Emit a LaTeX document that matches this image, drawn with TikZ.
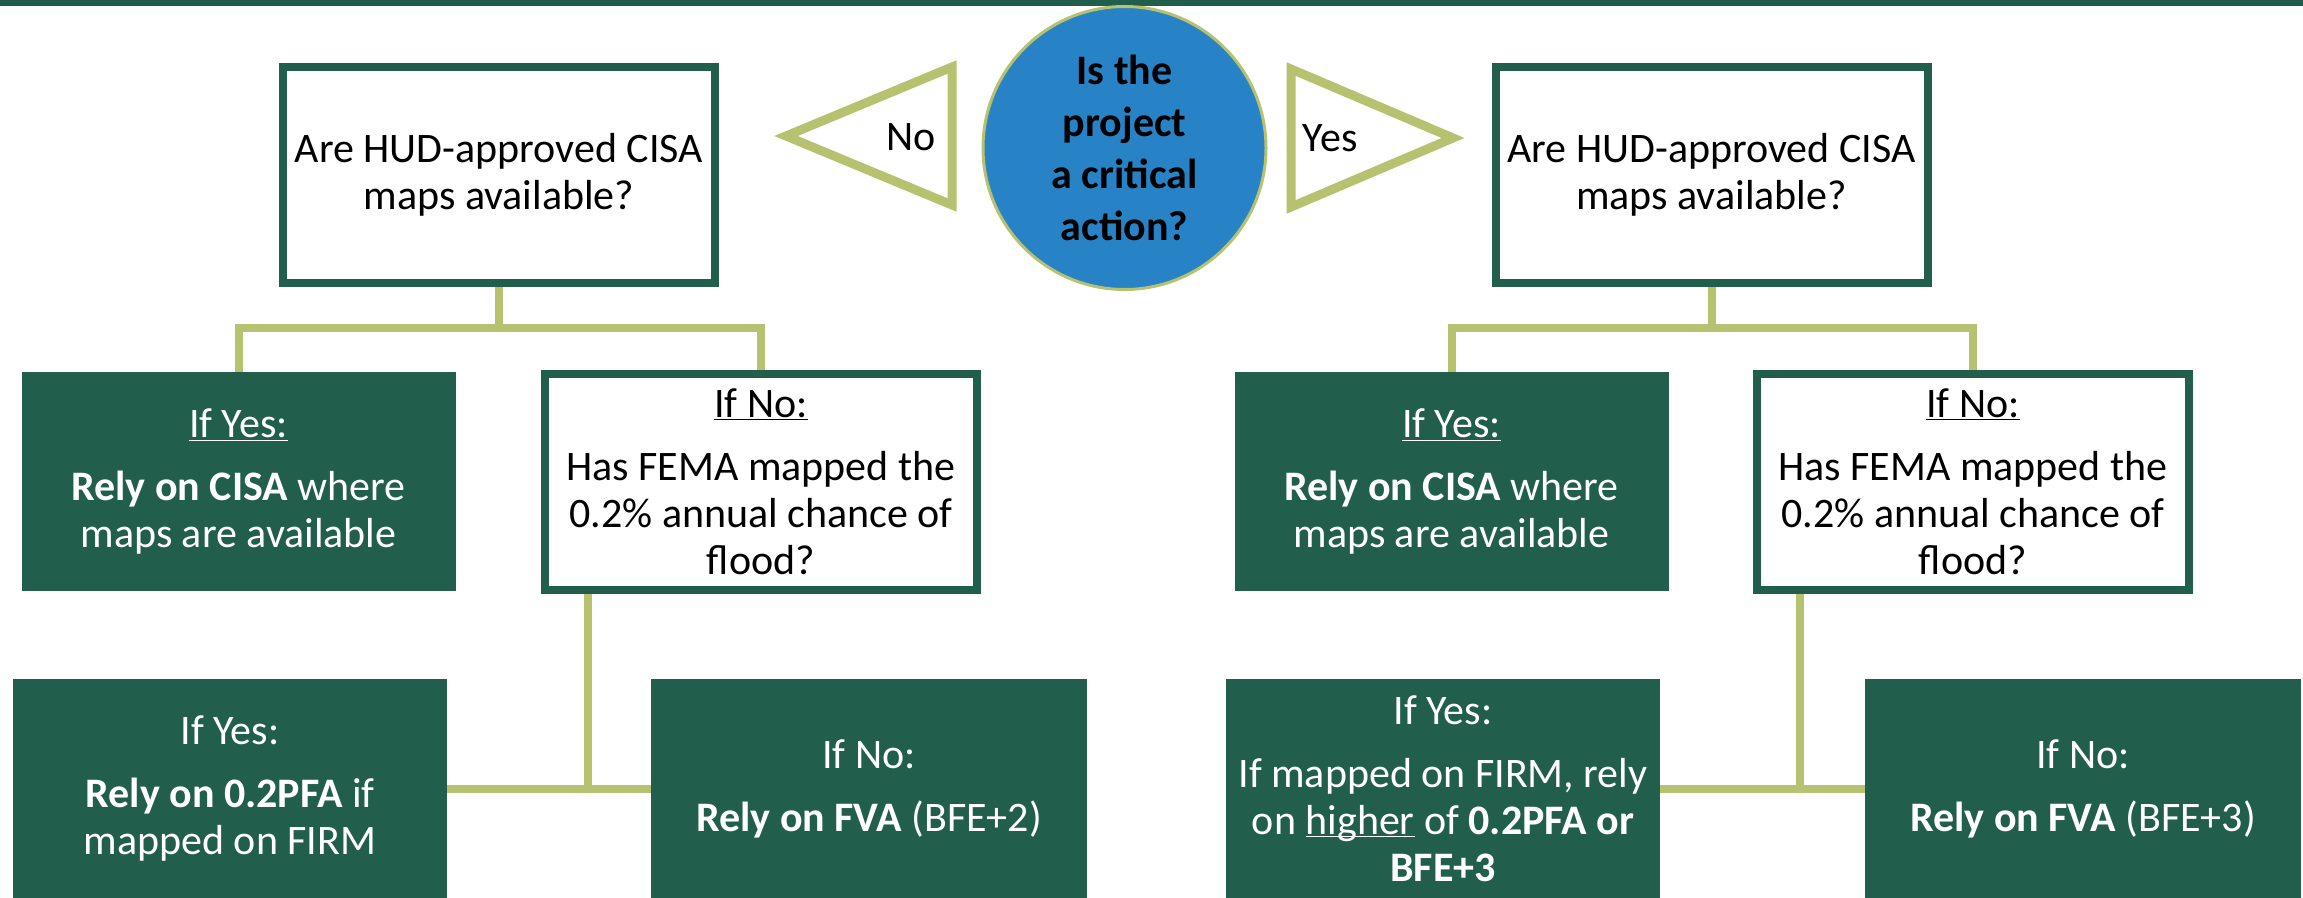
\documentclass[tikz,border=0pt]{standalone}
\usepackage{fontspec}
\setmainfont{Carlito}
\usetikzlibrary{backgrounds}
\definecolor{hudgreen}{RGB}{34,94,76}
\definecolor{leaf}{RGB}{182,194,111}
\definecolor{disc}{RGB}{40,130,198}
\newcommand{\bigtxt}{\fontsize{23.9}{26.7}\selectfont}
\newcommand{\ulin}[1]{\underline{\raisebox{0pt}[\height][0pt]{#1}}}
\tikzset{qbox/.style={draw=hudgreen,line width=0.16cm,fill=white,align=center,minimum width=8.64cm,minimum height=4.32cm,inner sep=2pt,font=\bigtxt},gbox/.style={fill=hudgreen,text=white,align=center,minimum width=8.68cm,minimum height=4.38cm,inner sep=2pt,font=\bigtxt},link/.style={draw=leaf,line width=0.16cm},flag/.style={draw=leaf,line width=0.18cm,fill=white},lab/.style={font=\bigtxt,inner sep=0pt}}
\begin{document}
\begin{tikzpicture}[x=1cm,y=1cm]
\useasboundingbox (0,0) rectangle (46.06,-17.96);
\fill[hudgreen] (0,0) rectangle (46.06,-0.12);
% start
\node[circle,draw=leaf,line width=0.06cm,fill=disc,minimum size=5.66cm,align=center,inner sep=0pt,font=\bfseries\fontsize{23.9}{29.6}\selectfont] (crit) at (22.49,-2.96) {Is the\\project\\a critical\\action?};
\draw[flag] (15.72,-2.72) -- (19.04,-1.34) -- (19.04,-4.10) -- cycle;
\node[lab] (no) at (18.22,-2.74) {No};
\draw[flag] (25.82,-1.38) -- (29.06,-2.76) -- (25.82,-4.14) -- cycle;
\node[lab] (yes) at (26.60,-2.76) {Yes};
% not critical
\node[qbox] (qL) at (9.98,-3.5) {Are HUD-approved CISA\\maps available?};
\node[gbox] (yL) at (4.77,-9.63) {\ulin{If Yes:}\\[0.32cm]\textbf{Rely on CISA} where\\maps are available};
\node[qbox] (nL) at (15.22,-9.63) {\ulin{If No:}\\[0.32cm]Has FEMA mapped the\\0.2\% annual chance of\\flood?};
\node[gbox] (yyL) at (4.60,-15.77) {If Yes:\\[0.32cm]\textbf{Rely on 0.2PFA} if\\mapped on FIRM};
\node[gbox,minimum width=8.72cm] (nnL) at (17.38,-15.77) {If No:\\[0.32cm]\textbf{Rely on FVA} (BFE+2)};
% critical
\node[qbox] (qR) at (34.23,-3.5) {Are HUD-approved CISA\\maps available?};
\node[gbox] (yR) at (29.03,-9.63) {\ulin{If Yes:}\\[0.32cm]\textbf{Rely on CISA} where\\maps are available};
\node[qbox] (nR) at (39.46,-9.63) {\ulin{If No:}\\[0.32cm]Has FEMA mapped the\\0.2\% annual chance of\\flood?};
\node[gbox] (yyR) at (28.86,-15.77) {If Yes:\\[0.32cm]If mapped on FIRM, rely\\on \ulin{higher} of \textbf{0.2PFA or}\\\textbf{BFE+3}};
\node[gbox,minimum width=8.72cm] (nnR) at (41.66,-15.77) {If No:\\[0.32cm]\textbf{Rely on FVA} (BFE+3)};
\coordinate (barL) at (9.98,-6.56);
\coordinate (barR) at (34.23,-6.56);
\coordinate (jL) at (11.76,-15.77);
\coordinate (jR) at (36.0,-15.77);
\begin{scope}[on background layer]
\draw[link] (qL.south) -- (barL);
\draw[link] (yL.north) |- (barL) -| (nL.north);
\draw[link] (yyL.east) -- (nnL.west);
\draw[link] (nL.south -| jL) -- (jL);
\draw[link] (qR.south) -- (barR);
\draw[link] (yR.north) |- (barR) -| (nR.north);
\draw[link] (yyR.east) -- (nnR.west);
\draw[link] (nR.south -| jR) -- (jR);
\end{scope}
\end{tikzpicture}
\end{document}
